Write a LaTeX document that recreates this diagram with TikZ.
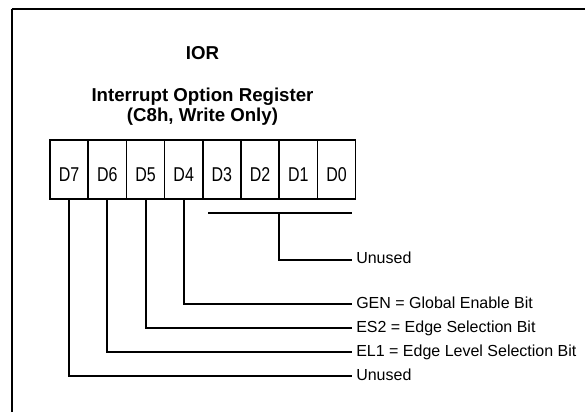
\documentclass[tikz,border=0pt]{standalone}
\usepackage{fontspec}
\setmainfont{Liberation Sans}
\usetikzlibrary{positioning}

\begin{document}
\begin{tikzpicture}[x=0.75pt,y=-0.75pt,
    cell/.style={rectangle,draw,line width=1.2pt,outer sep=0pt,inner sep=0pt,minimum width=28.65pt,minimum height=44.25pt,text height=17.5pt,font=\fontsize{12}{14}\selectfont},
    title/.style={font=\fontsize{14}{15}\selectfont\bfseries,align=center},
    lbl/.style={anchor=base west,inner sep=0pt,font=\fontsize{12}{14}\selectfont},
    lead/.style={line width=1.5pt}]
        \useasboundingbox (0,0) rectangle (585,412);
        \draw[line width=0.9pt] (12,412) -- (12,9);
        \draw[line width=1.6pt] (11.5,9) -- (585,9);

        \node[title] (ior) at (202.5,53) {IOR};
        \node[title] (name) at (202.5,107) {Interrupt Option Register\\(C8h, Write Only)};

        \node[cell] (d7) at (69.1,169.5) {\scalebox{1}[1.25]{D7}};
        \foreach \i [remember=\i as \prev (initially 7)] in {6,...,0}{
            \node[cell] (d\i) [right=0pt of d\prev] {\scalebox{1}[1.25]{D\i}};
        }

        \node[lbl] (free) at (356,263.5) {Unused};
        \node[lbl] (gen) at (356,308) {GEN = Global Enable Bit};
        \node[lbl] (es) at (356,332) {ES2 = Edge Selection Bit};
        \node[lbl] (el) at (356,356) {EL1 = Edge Level Selection Bit};
        \node[lbl] (spare) at (356,380) {Unused};

        \coordinate (barl) at (208,213);
        \coordinate (barr) at (352,213);
        \draw[lead] (barl) -- (barr);
        \draw[lead] (d2.south east |- barl) |- ([shift={(-3pt,3pt)}]free.base west);

        \foreach \i/\l in {4/gen,5/es,6/el,7/spare}{
            \draw[lead] (d\i.south) |- ([shift={(-3pt,3pt)}]\l.base west);
        }
    \end{tikzpicture}
\end{document}
